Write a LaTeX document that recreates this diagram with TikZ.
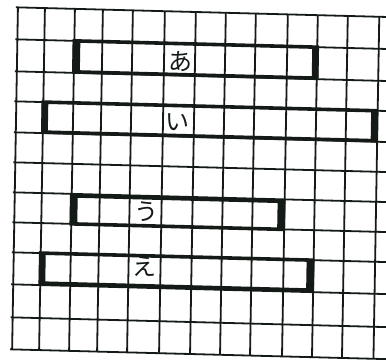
\documentclass[tikz,border=0pt]{standalone}
\usepackage{fontspec}
\newfontfamily\jpfont{Noto Sans CJK JP}
\definecolor{ink}{HTML}{141A16}
\tikzset{
  gridline/.style={draw=ink, line width=1.8pt},
  barline/.style={draw=ink, line width=3.6pt},
  barend/.style={fill=ink},
  lbl/.style={font=\jpfont\fontsize{24}{24}\selectfont, text=ink, inner sep=0pt}
}
\begin{document}
\begin{tikzpicture}[x=1pt,y=-1pt]
\clip (0,0) rectangle (386,360);
\fill[white] (0,0) rectangle (386,360);
\begin{scope}[shift={(193,180)}, xslant=0.017, yslant=-0.026, shift={(-193,-180)}]
  % grid
  \foreach \u in {15,42,72,100,130,162,193,223,253,285,315,345,376.5}
    \draw[gridline] (\u,12) -- (\u,354);
  \foreach \v in {12,44,76,106,137,167,197,227,257,289,322,354}
    \draw[gridline] (13,\v) -- (400,\v);
  % bar a
  \draw[barline] (72,44) rectangle (315,75);
  \fill[barend] (70.5,44) rectangle (78,75);
  \fill[barend] (310,44) rectangle (316.5,75);
  % bar i
  \draw[barline] (42,106) rectangle (375,136);
  \fill[barend] (40.5,106) rectangle (47,136);
  \fill[barend] (370,106) rectangle (376.5,136);
  % bar u
  \draw[barline] (72,199) rectangle (284,227);
  \fill[barend] (70.5,199) rectangle (78,227);
  \fill[barend] (278,199) rectangle (285.5,227);
  % bar e
  \draw[barline] (42,257) rectangle (314,287);
  \fill[barend] (40.5,257) rectangle (47,287);
  \fill[barend] (308,257) rectangle (315.5,287);
  % labels
  \node[lbl] (a) at (178,62) {あ};
  \node[lbl] (i) at (177,123) {い};
  \node[lbl] (u) at (147,213) {う};
  \node[lbl] (e) at (146,268) {え};
\end{scope}
\end{tikzpicture}
\end{document}
